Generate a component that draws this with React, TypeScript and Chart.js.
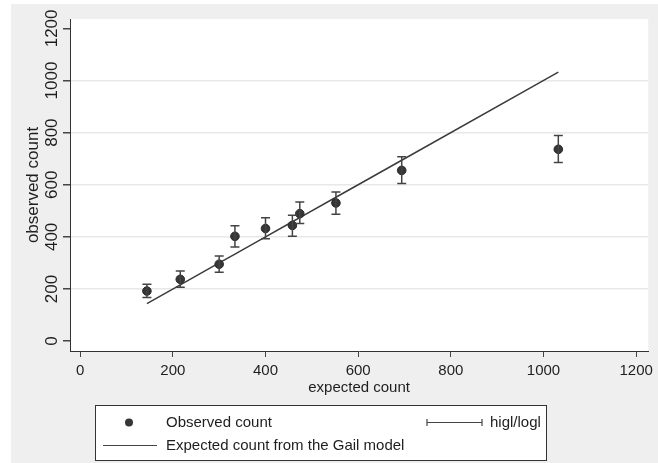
import React, { useEffect, useRef } from 'react';
import { Chart, registerables } from 'chart.js';

Chart.register(...registerables);

const expectedCount = [144, 216, 300, 334, 400, 458, 474, 552, 694, 1032];
const observedCount = [192, 237, 295, 402, 432, 444, 489, 530, 655, 736];
const higl = [218, 269, 327, 443, 473, 483, 534, 572, 707, 789];
const logl = [167, 207, 264, 361, 393, 402, 451, 487, 605, 685];
const xTickValues = [0, 200, 400, 600, 800, 1000, 1200];
const yTickValues = [0, 200, 400, 600, 800, 1000, 1200];
const legendLabels = ['Observed count', 'higl/logl', 'Expected count from the Gail model'];
const xTitle = 'expected count';
const yTitle = 'observed count';

const FONT = 'Liberation Sans, Arial, Helvetica, sans-serif';
const TEXT = '#1e1e1e';
const MARK = '#363636';

const bgPlugin = {
  id: 'stataBg',
  beforeDraw(chart: any) {
    const { ctx, width, height, chartArea } = chart;
    ctx.save();
    ctx.fillStyle = '#ffffff';
    ctx.fillRect(0, 0, width, height);
    ctx.fillStyle = '#efefef';
    ctx.fillRect(11, 4, width - 11, height - 4);
    ctx.fillStyle = '#ffffff';
    ctx.fillRect(chartArea.left, chartArea.top, chartArea.right - chartArea.left, chartArea.bottom - chartArea.top);
    ctx.restore();
  },
};

const errorBarPlugin = {
  id: 'errorBars',
  afterDatasetsDraw(chart: any) {
    const { ctx, scales } = chart;
    const xs = scales.x;
    const ys = scales.y;
    ctx.save();
    ctx.strokeStyle = '#444444';
    ctx.lineWidth = 1.5;
    for (let i = 0; i < expectedCount.length; i++) {
      const px = xs.getPixelForValue(expectedCount[i]);
      const pTop = ys.getPixelForValue(higl[i]);
      const pBot = ys.getPixelForValue(logl[i]);
      ctx.beginPath();
      ctx.moveTo(px, pTop);
      ctx.lineTo(px, pBot);
      ctx.moveTo(px - 4.5, pTop);
      ctx.lineTo(px + 4.5, pTop);
      ctx.moveTo(px - 4.5, pBot);
      ctx.lineTo(px + 4.5, pBot);
      ctx.stroke();
    }
    ctx.restore();
  },
};

const legendPlugin = {
  id: 'stataLegend',
  afterDraw(chart: any) {
    const { ctx } = chart;
    ctx.save();
    const bx = 95.5, by = 405.5, bw = 451, bh = 55;
    ctx.fillStyle = '#ffffff';
    ctx.fillRect(bx, by, bw, bh);
    ctx.strokeStyle = '#333333';
    ctx.lineWidth = 1;
    ctx.strokeRect(bx, by, bw, bh);

    const r1 = 422.5, r2 = 445.5;
    ctx.fillStyle = MARK;
    ctx.beginPath();
    ctx.arc(129, r1, 4, 0, Math.PI * 2);
    ctx.fill();
    ctx.strokeStyle = '#444444';
    ctx.lineWidth = 1.2;
    ctx.beginPath();
    ctx.moveTo(427, r1);
    ctx.lineTo(482, r1);
    ctx.moveTo(427, r1 - 3.5);
    ctx.lineTo(427, r1 + 3.5);
    ctx.moveTo(482, r1 - 3.5);
    ctx.lineTo(482, r1 + 3.5);
    ctx.stroke();
    ctx.beginPath();
    ctx.moveTo(103, r2);
    ctx.lineTo(157, r2);
    ctx.stroke();

    ctx.fillStyle = TEXT;
    ctx.font = `15px ${FONT}`;
    ctx.textBaseline = 'middle';
    ctx.textAlign = 'left';
    ctx.fillText(legendLabels[0], 166, r1);
    ctx.fillText(legendLabels[1], 490, r1);
    ctx.fillText(legendLabels[2], 166, r2);
    ctx.restore();
  },
};

export default function App() {
  const ref = useRef<HTMLCanvasElement | null>(null);

  useEffect(() => {
    const canvas = ref.current;
    if (!canvas) return;
    const chart = new Chart(canvas, {
      type: 'scatter',
      data: {
        datasets: [
          {
            type: 'scatter',
            label: legendLabels[0],
            data: expectedCount.map((x, i) => ({ x, y: observedCount[i] })),
            backgroundColor: MARK,
            borderColor: '#2a2a2a',
            borderWidth: 1,
            pointRadius: 4.3,
            pointHoverRadius: 4.3,
            order: 1,
          },
          {
            type: 'line',
            label: legendLabels[2],
            data: expectedCount.map((x) => ({ x, y: x })),
            borderColor: '#3c3c3c',
            borderWidth: 1.5,
            pointRadius: 0,
            fill: false,
            showLine: true,
            order: 2,
          } as any,
        ],
      },
      options: {
        responsive: false,
        animation: false,
        events: [],
        layout: { padding: { left: 0, top: 19, right: 8, bottom: 66 } },
        plugins: {
          legend: { display: false },
          tooltip: { enabled: false },
        },
        scales: {
          x: {
            type: 'linear',
            min: -22,
            max: 1226,
            afterBuildTicks: (s: any) => {
              s.ticks = xTickValues.map((v) => ({ value: v }));
            },
            afterFit: (s: any) => {
              s.height = 46;
            },
            grid: {
              drawOnChartArea: false,
              drawTicks: true,
              tickLength: 6,
              tickColor: '#444444',
              tickWidth: 1,
            },
            border: { display: true, color: '#333333', width: 1 },
            ticks: {
              color: TEXT,
              font: { family: FONT, size: 15 },
              padding: 5,
              maxRotation: 0,
              autoSkip: false,
              callback: (v: any) => String(v),
            },
            title: {
              display: true,
              text: xTitle,
              color: TEXT,
              font: { family: FONT, size: 15 },
              padding: { top: 0, bottom: 0 },
            },
          },
          y: {
            type: 'linear',
            min: -38,
            max: 1236,
            afterBuildTicks: (s: any) => {
              s.ticks = yTickValues.map((v) => ({ value: v }));
            },
            afterFit: (s: any) => {
              s.width = 70;
            },
            grid: {
              drawOnChartArea: true,
              drawTicks: true,
              tickLength: 7,
              tickColor: '#444444',
              color: (c: any) =>
                c.tick && (c.tick.value === 0 || c.tick.value === 1200) ? 'rgba(0,0,0,0)' : '#e8e8e8',
              lineWidth: 1.5,
            },
            border: { display: true, color: '#333333', width: 1 },
            ticks: {
              color: TEXT,
              font: { family: FONT, size: 17 },
              minRotation: 90,
              maxRotation: 90,
              crossAlign: 'center',
              padding: -8,
              autoSkip: false,
              callback: (v: any) => String(v),
            },
            title: {
              display: true,
              text: yTitle,
              color: TEXT,
              font: { family: FONT, size: 17 },
              padding: { top: 23, bottom: 0 },
            },
          },
        },
      },
      plugins: [bgPlugin, errorBarPlugin, legendPlugin],
    } as any);
    return () => chart.destroy();
  }, []);

  return (
    <div style={{ position: 'fixed', left: 0, top: 0, width: 658, height: 463 }}>
      <canvas ref={ref} width={658} height={463} style={{ width: 658, height: 463, display: 'block' }} />
    </div>
  );
}
